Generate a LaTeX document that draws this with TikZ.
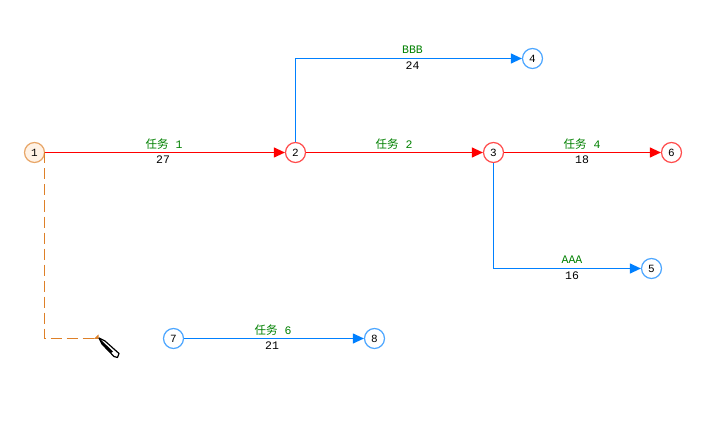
\documentclass[tikz,border=0pt]{standalone}
\usepackage{fontspec}
\setmainfont{Liberation Mono}
\newfontfamily\cjk{Noto Sans CJK SC}
\usetikzlibrary{arrows.meta}
\definecolor{cred}{RGB}{255,0,0}
\definecolor{cblue}{RGB}{0,128,255}
\definecolor{corange}{RGB}{222,128,40}
\definecolor{cgreen}{RGB}{0,128,0}
\tikzset{
 evt/.style={circle,draw,line width=1.2pt,minimum size=20pt,inner sep=0pt,fill=white,font=\fontsize{11}{11}\selectfont},
 redevt/.style={evt,draw=cred!70!white},
 blueevt/.style={evt,draw=cblue!70!white},
 firstevt/.style={evt,draw=corange!70!white,fill=orange!10!white},
 redarrow/.style={color=cred,line width=1.1pt,-{Triangle[length=11pt,width=10pt]}},
 bluearrow/.style={color=cblue,line width=1.1pt,-{Triangle[length=11pt,width=10pt]}},
 stem/.style={color=cblue,line width=1.1pt},
 namelbl/.style={text=cgreen,inner sep=0pt,font=\fontsize{11.5}{11.5}\selectfont},
 durlbl/.style={text=black,inner sep=0pt,font=\fontsize{11.5}{11.5}\selectfont},
 dashline/.style={color=corange,line width=1.1pt,dash pattern=on 11pt off 5pt},
}
\begin{document}
\begin{tikzpicture}[x=1pt,y=-1pt]
\useasboundingbox (0,0) rectangle (725,422);
\node[firstevt] (n1) at (34.5,152.5) {1};
\node[redevt] (n2) at (295.5,152.5) {2};
\node[redevt] (n3) at (493.5,152.5) {3};
\node[blueevt] (n4) at (532.5,58.5) {4};
\node[blueevt] (n5) at (651.5,268.5) {5};
\node[redevt] (n6) at (671.5,152.5) {6};
\node[blueevt] (n7) at (173.5,338.5) {7};
\node[blueevt] (n8) at (374.5,338.5) {8};
\coordinate (c24) at (295.5,58.5);
\coordinate (c35) at (493.5,268.5);
\coordinate (d1) at (44.5,152.5);
\coordinate (d2) at (44.5,338.5);
\coordinate (d3) at (94,338.5);
\draw[stem] (n2.north) -- (c24);
\draw[bluearrow] (c24) -- (n4.west);
\draw[stem] (n3.south) -- (c35);
\draw[bluearrow] (c35) -- (n5.west);
\draw[redarrow] (n1.east) -- (n2.west);
\draw[redarrow] (n2.east) -- (n3.west);
\draw[redarrow] (n3.east) -- (n6.west);
\draw[bluearrow] (n7.east) -- (n8.west);
\draw[dashline] (d1) -- (d2) -- (d3);
\fill[corange] (94,338.8) -- (98.5,334.5) -- (98.5,339) -- cycle;
\node[namelbl] at (164,144) {{\cjk 任务} 1};
\node[durlbl] at (163,160) {27};
\node[namelbl] at (394,144) {{\cjk 任务} 2};
\node[namelbl] at (582,144) {{\cjk 任务} 4};
\node[durlbl] at (582,160) {18};
\node[namelbl] at (412.5,50) {BBB};
\node[durlbl] at (412.5,66) {24};
\node[namelbl] at (572,260) {AAA};
\node[durlbl] at (572,276) {16};
\node[namelbl] at (273,330) {{\cjk 任务} 6};
\node[durlbl] at (272,346) {21};
% pen cursor
\filldraw[draw=black,fill=white,line width=1.2pt,line join=round] (99,338) -- (105,341) -- (119,353.5) -- (117.5,357.5) -- (114,356.5) -- (102,344) -- cycle;
\fill[black] (100,339) -- (113,351.5) -- (111,353) -- (102,344) -- cycle;
\end{tikzpicture}
\end{document}
